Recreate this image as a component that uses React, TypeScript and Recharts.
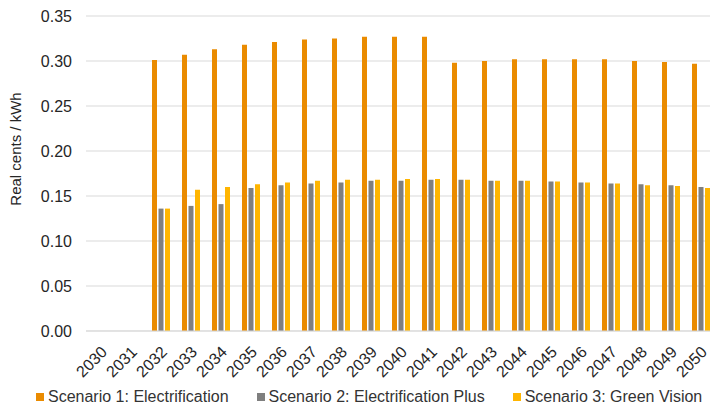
import React from 'react';
import { BarChart, Bar, XAxis, YAxis, CartesianGrid, Legend } from 'recharts';

const years = [
  '2030', '2031', '2032', '2033', '2034', '2035', '2036', '2037', '2038', '2039', '2040',
  '2041', '2042', '2043', '2044', '2045', '2046', '2047', '2048', '2049', '2050',
];

const electrification = [
  null, null, 0.301, 0.307, 0.313, 0.318, 0.321, 0.324, 0.325, 0.327, 0.327,
  0.327, 0.298, 0.3, 0.302, 0.302, 0.302, 0.302, 0.3, 0.299, 0.297,
];
const electrificationPlus = [
  null, null, 0.136, 0.139, 0.141, 0.159, 0.162, 0.164, 0.165, 0.167, 0.167,
  0.168, 0.168, 0.167, 0.167, 0.166, 0.165, 0.164, 0.163, 0.162, 0.16,
];
const greenVision = [
  null, null, 0.136, 0.157, 0.16, 0.163, 0.165, 0.167, 0.168, 0.168, 0.169,
  0.169, 0.168, 0.167, 0.167, 0.166, 0.165, 0.164, 0.162, 0.161, 0.159,
];

const yTicks = [0, 0.05, 0.1, 0.15, 0.2, 0.25, 0.3, 0.35];

const series = [
  { key: 's1', name: 'Scenario 1: Electrification', color: '#EA8B00' },
  { key: 's2', name: 'Scenario 2: Electrification Plus', color: '#7F7F7F' },
  { key: 's3', name: 'Scenario 3: Green Vision', color: '#FFB500' },
];

const data = years.map((year, i) => ({
  year,
  s1: electrification[i],
  s2: electrificationPlus[i],
  s3: greenVision[i],
}));

const font = '"Liberation Sans", Arial, sans-serif';
const textColor = '#262626';

function YearTick(props: any) {
  const { x, y, payload } = props;
  return (
    <g transform={`translate(${x - 1},${y + 6})`}>
      <text transform="rotate(-45)" textAnchor="end" dy="0.71em" fontSize={16} fill={textColor} fontFamily={font}>
        {payload.value}
      </text>
    </g>
  );
}

function LegendRow() {
  return (
    <div style={{ display: 'flex', paddingLeft: 36, paddingTop: 12, fontFamily: font, fontSize: 16, color: '#333', whiteSpace: 'nowrap' }}>
      {series.map((s) => (
        <div key={s.key} style={{ display: 'flex', alignItems: 'center', marginRight: 28, flexShrink: 0 }}>
          <span style={{ width: 8, height: 8, background: s.color, marginRight: 4, display: 'inline-block' }} />
          <span>{s.name}</span>
        </div>
      ))}
    </div>
  );
}

export default function App() {
  return (
    <div style={{ position: 'absolute', left: 0, top: 0, width: 710, height: 406, overflow: 'hidden', background: '#fff' }}>
      <BarChart
        width={716}
        height={406}
        data={data}
        margin={{ top: 16, right: 0, left: 0, bottom: 0 }}
        barSize={5}
        barGap={1.5}
        style={{ fontFamily: font }}
      >
        <CartesianGrid vertical={false} stroke="#D9D9D9" />
        <XAxis
          dataKey="year"
          height={45}
          interval={0}
          tickLine={false}
          axisLine={{ stroke: '#D9D9D9' }}
          tick={<YearTick />}
        />
        <YAxis
          width={86}
          domain={[0, 0.35]}
          ticks={yTicks}
          tickFormatter={(v: number) => v.toFixed(2)}
          axisLine={false}
          tickLine={false}
          tickMargin={8}
          tick={{ fontSize: 16, fill: textColor }}
          label={{
            content: () => (
              <text x={15} y={149} transform="rotate(-90, 15, 149)" textAnchor="middle" dominantBaseline="central" fontSize={15} fill={textColor} fontFamily={font}>
                Real cents / kWh
              </text>
            ),
          }}
        />
        <Legend verticalAlign="bottom" height={30} content={() => <LegendRow />} />
        {series.map((s) => (
          <Bar key={s.key} dataKey={s.key} name={s.name} fill={s.color} isAnimationActive={false} />
        ))}
      </BarChart>
    </div>
  );
}
